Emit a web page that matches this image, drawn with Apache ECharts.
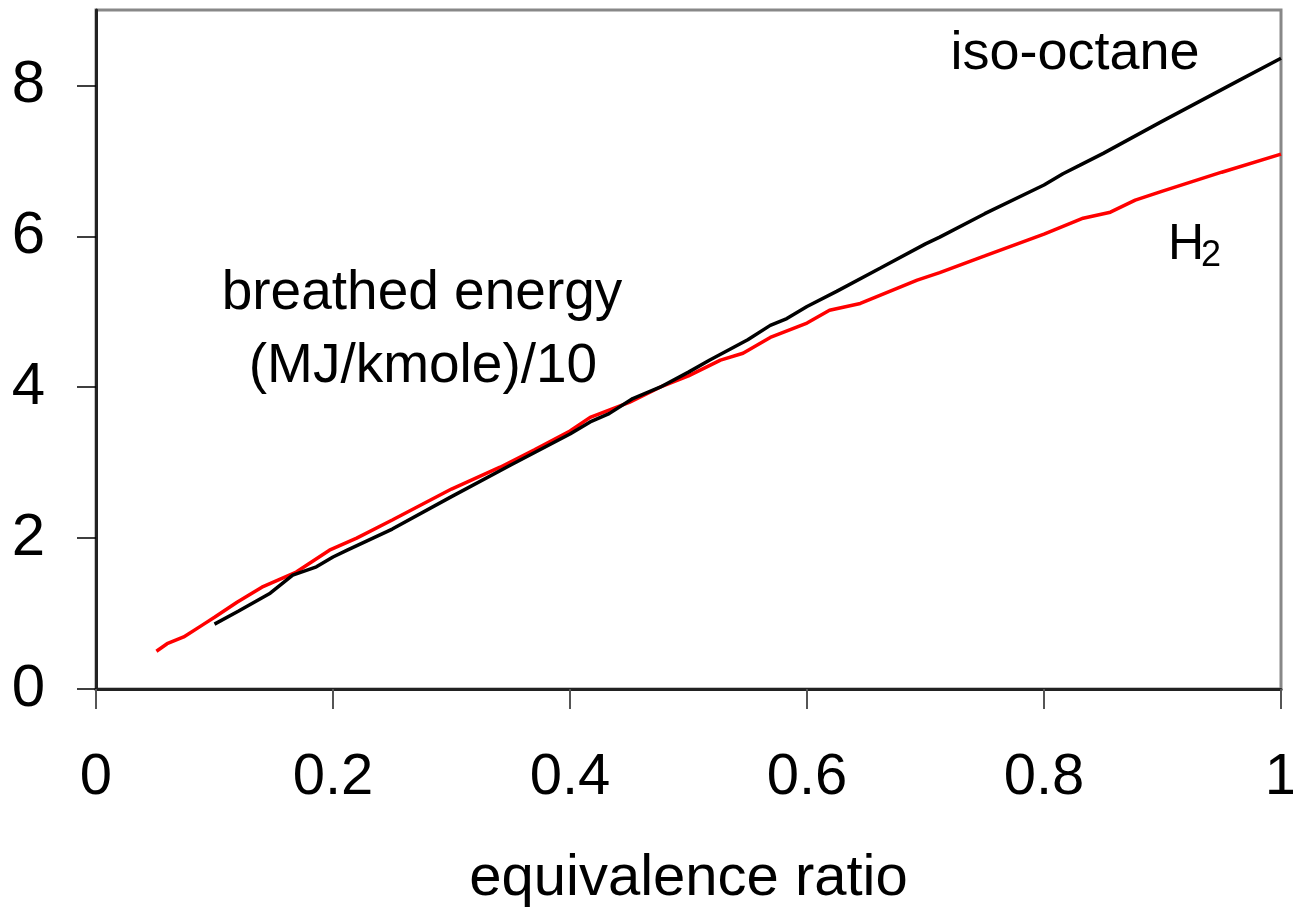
<!DOCTYPE html>
<html>
<head>
<meta charset="utf-8">
<script src="https://cdn.jsdelivr.net/npm/echarts@6/dist/echarts.min.js"></script>
<style>
html,body{margin:0;padding:0;background:#fff;overflow:hidden;}
#chart{width:1293px;height:910px;}
</style>
</head>
<body>
<div id="chart"></div>
<script>
const xTicks = [0, 0.2, 0.4, 0.6, 0.8, 1];
const yTicks = [0, 2, 4, 6, 8];

const isoX = [0.1, 0.12, 0.147, 0.166, 0.186, 0.2, 0.212, 0.25, 0.3, 0.35, 0.4, 0.417, 0.433, 0.453, 0.476, 0.5, 0.518, 0.55, 0.569, 0.583, 0.6, 0.625, 0.662, 0.7, 0.712, 0.75, 0.8, 0.816, 0.83, 0.85, 0.898, 0.965, 1.0];
const isoY = [0.86, 1.03, 1.27, 1.51, 1.62, 1.75, 1.84, 2.12, 2.55, 2.97, 3.38, 3.54, 3.65, 3.85, 4.0, 4.2, 4.36, 4.63, 4.82, 4.91, 5.07, 5.27, 5.58, 5.9, 5.99, 6.3, 6.68, 6.83, 6.94, 7.1, 7.51, 8.07, 8.36];

const h2X = [0.051, 0.06, 0.074, 0.09, 0.1, 0.119, 0.14, 0.169, 0.197, 0.22, 0.25, 0.3, 0.341, 0.37, 0.4, 0.417, 0.45, 0.476, 0.5, 0.527, 0.546, 0.569, 0.6, 0.619, 0.645, 0.693, 0.712, 0.75, 0.8, 0.833, 0.856, 0.877, 0.9, 0.95, 1.0];
const h2Y = [0.5, 0.6, 0.69, 0.85, 0.95, 1.15, 1.35, 1.55, 1.84, 2.0, 2.24, 2.65, 2.94, 3.17, 3.42, 3.6, 3.8, 4.0, 4.15, 4.36, 4.45, 4.66, 4.85, 5.02, 5.11, 5.42, 5.52, 5.74, 6.03, 6.24, 6.32, 6.48, 6.6, 6.85, 7.09];

const FONT = '"Liberation Sans", Arial, sans-serif';

const chart = echarts.init(document.getElementById('chart'), null, {renderer: 'canvas'});
chart.setOption({
  animation: false,
  backgroundColor: '#fff',
  grid: {
    left: 96, right: 12, top: 10, bottom: 221,
    containLabel: false, outerBoundsMode: 'none',
    show: true, borderColor: '#888', borderWidth: 3, backgroundColor: 'transparent'
  },
  xAxis: {
    type: 'value', min: 0, max: 1, interval: 0.2,
    name: 'equivalence ratio', nameLocation: 'middle', nameGap: 161,
    nameTextStyle: {fontFamily: FONT, fontSize: 58, color: '#000'},
    axisLine: {show: true, onZero: false, lineStyle: {color: '#222', width: 3}},
    axisTick: {show: true, inside: false, length: 20, lineStyle: {color: '#555', width: 2}},
    axisLabel: {margin: 60, fontFamily: FONT, fontSize: 58, color: '#000', hideOverlap: false,
      formatter: v => String(+v.toFixed(1))},
    splitLine: {show: false}
  },
  yAxis: {
    type: 'value', min: 0, max: 9, interval: 2,
    axisLine: {show: true, onZero: false, lineStyle: {color: '#222', width: 3}},
    axisTick: {show: true, inside: false, length: 19, customValues: yTicks, lineStyle: {color: '#000', width: 1.5}},
    axisLabel: {margin: 51, fontFamily: FONT, fontSize: 60, color: '#000', customValues: yTicks,
      formatter: v => String(v)},
    splitLine: {show: false}
  },
  series: [
    {
      name: 'iso-octane', type: 'line', showSymbol: false, symbol: 'none',
      data: isoX.map((x, i) => [x, isoY[i]]),
      lineStyle: {color: '#000', width: 3.5}, z: 3
    },
    {
      name: 'H2', type: 'line', showSymbol: false, symbol: 'none',
      data: h2X.map((x, i) => [x, h2Y[i]]),
      lineStyle: {color: '#ff0000', width: 3.5}, z: 2
    }
  ],
  graphic: [
    {type: 'text', x: 1075, y: 54, style: {text: 'iso-octane', font: '54px ' + FONT, fill: '#000', align: 'center', verticalAlign: 'middle'}},
    {type: 'text', x: 1168, y: 245, style: {text: 'H', font: '50px ' + FONT, fill: '#000', align: 'left', verticalAlign: 'middle'}},
    {type: 'text', x: 1201, y: 256, style: {text: '2', font: '36px ' + FONT, fill: '#000', align: 'left', verticalAlign: 'middle'}},
    {type: 'text', x: 422, y: 294, style: {text: 'breathed energy', font: '55px ' + FONT, fill: '#000', align: 'center', verticalAlign: 'middle'}},
    {type: 'text', x: 423, y: 367, style: {text: '(MJ/kmole)/10', font: '55px ' + FONT, fill: '#000', align: 'center', verticalAlign: 'middle'}}
  ]
});
</script>
</body>
</html>
